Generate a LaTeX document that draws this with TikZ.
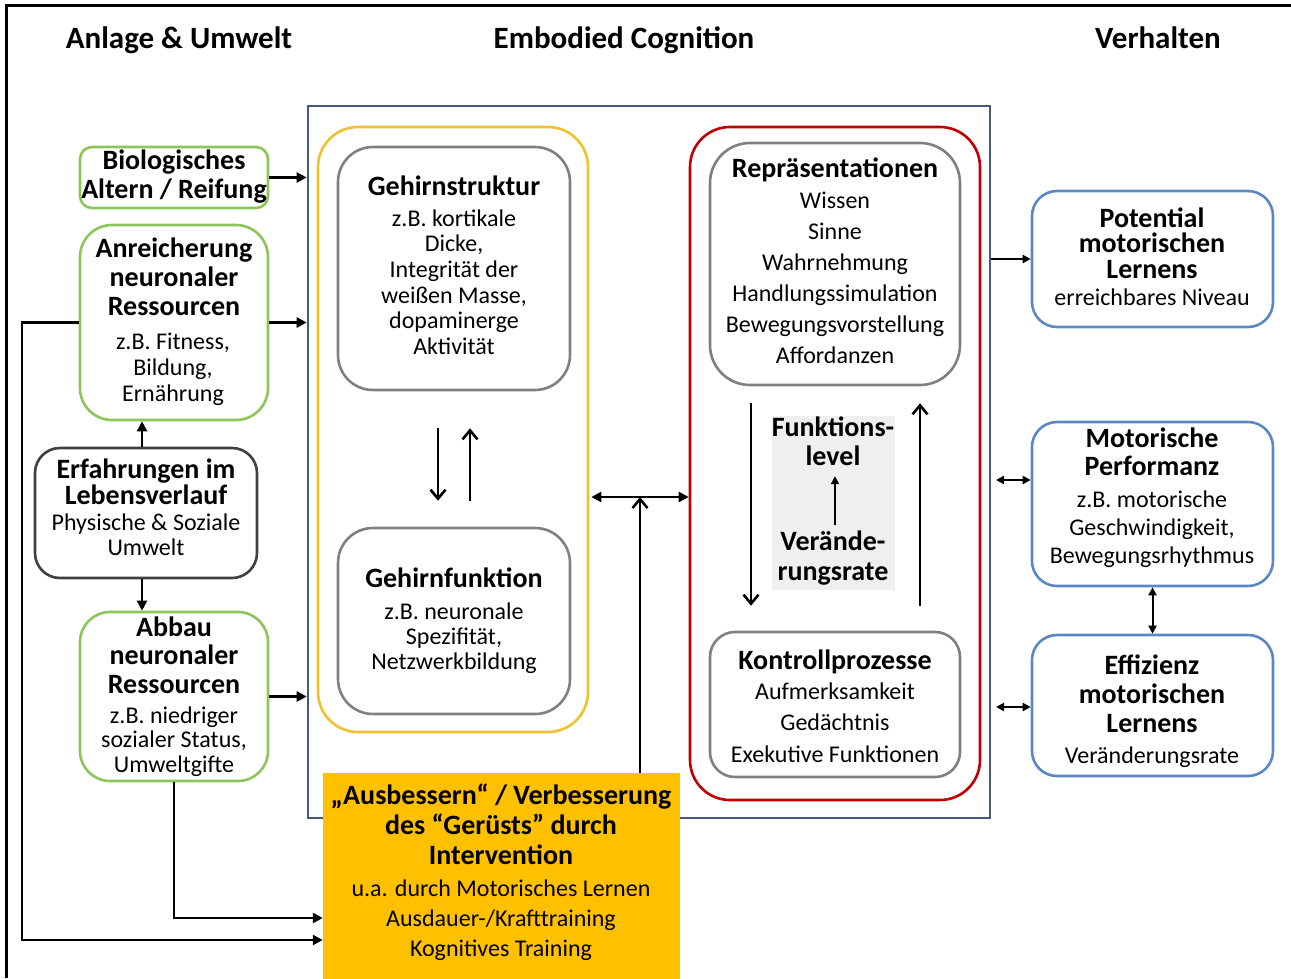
\documentclass[tikz,border=0pt]{standalone}
\usepackage{fontspec}
\setmainfont{Carlito}
\usetikzlibrary{arrows.meta}

\definecolor{leafgreen}{HTML}{8CC65A}
\definecolor{slateblue}{HTML}{46597A}
\definecolor{goldline}{HTML}{F2C12E}
\definecolor{darkred}{HTML}{C00000}
\definecolor{midgrey}{HTML}{808080}
\definecolor{darkgrey}{HTML}{404040}
\definecolor{skyblue}{HTML}{5B88C4}
\definecolor{amber}{HTML}{FFC000}
\definecolor{shade}{HTML}{EFEFEF}

% one centred node per text line: style, name prefix, x, y of first line, line step, lines
\newcommand\tlines[6]{%
  \foreach \lineitem [count=\k from 0] in {#6}
    {\node[#1] (#2\k) at ({#3},{#4+\k*#5}) {\lineitem};}}

\begin{document}
\begin{tikzpicture}[x=1pt,y=-1pt,
  hdr/.style={font=\bfseries\fontsize{31}{36}\selectfont, text height=22pt, text depth=6pt, inner sep=0pt},
  ttl/.style={font=\bfseries\fontsize{28}{32}\selectfont, text height=19pt, text depth=5pt, inner sep=0pt},
  bdy/.style={font=\fontsize{24}{28}\selectfont, text height=17pt, text depth=4.5pt, inner sep=0pt},
  box/.style={draw=#1, line width=2.6pt, fill=white, inner sep=0pt},
  arr/.style={line width=2.6pt, -{Triangle[length=10pt,width=10pt]}},
  darr/.style={line width=2.6pt, {Triangle[length=10pt,width=10pt]}-{Triangle[length=10pt,width=10pt]}},
  sarr/.style={line width=2pt, -{Triangle[length=8pt,width=8pt]}},
  sdarr/.style={line width=2pt, {Triangle[length=8pt,width=8pt]}-{Triangle[length=8pt,width=8pt]}},
  openarr/.style={line width=2.6pt, -{Straight Barb[length=9pt,width=15pt]}},
]
\useasboundingbox (0,0) rectangle (1291,978);

% frame
\draw[line width=3pt] (6,978) -- (6,5) -- (1291,5);

% column headings
\node[hdr] (hAnlage) at (179,40) {Anlage \& Umwelt};
\node[hdr] (hEmb) at (624,40) {Embodied Cognition};
\node[hdr] (hVerh) at (1158,40) {Verhalten};

% embodied cognition frame and its contents
\node[box=slateblue, minimum width=682pt, minimum height=712pt] (emb) at (649,462) {};
\node[box=goldline, rounded corners=40pt, minimum width=270pt, minimum height=605pt] (yel) at (453,429.5) {};
\node[box=darkred, rounded corners=40pt, minimum width=290pt, minimum height=673pt] (red) at (835,463.5) {};
\node[box=midgrey, rounded corners=35pt, minimum width=232pt, minimum height=243pt] (gs) at (454,268.5) {};
\node[box=midgrey, rounded corners=35pt, minimum width=232pt, minimum height=186pt] (gf) at (454,621) {};
\node[box=midgrey, rounded corners=40pt, minimum width=250pt, minimum height=242pt] (rep) at (835,264) {};
\node[box=midgrey, rounded corners=25pt, minimum width=250pt, minimum height=145pt] (kon) at (835,704.5) {};
\node[fill=shade, inner sep=0pt, minimum width=123pt, minimum height=174pt] (fl) at (833.5,503) {};

% intervention box
\node[fill=amber, inner sep=0pt, minimum width=357pt, minimum height=215pt] (orange) at (501.5,880.5) {};

% nature & environment column
\node[box=leafgreen, rounded corners=12pt, minimum width=188pt, minimum height=61pt] (bio) at (174,177.5) {};
\node[box=leafgreen, rounded corners=32pt, minimum width=188pt, minimum height=195pt] (anr) at (174,322.5) {};
\node[box=darkgrey, rounded corners=25pt, minimum width=222pt, minimum height=130pt] (erf) at (146,513) {};
\node[box=leafgreen, rounded corners=30pt, minimum width=188pt, minimum height=169pt] (abb) at (174,696.5) {};

% behaviour column
\node[box=skyblue, rounded corners=25pt, minimum width=241pt, minimum height=136pt] (pot) at (1152.5,259) {};
\node[box=skyblue, rounded corners=25pt, minimum width=241pt, minimum height=164pt] (perf) at (1152.5,504) {};
\node[box=skyblue, rounded corners=25pt, minimum width=241pt, minimum height=141pt] (eff) at (1152.5,705.5) {};

% texts
\tlines{ttl}{biot}{174}{162}{29}{Biologisches,{Altern / Reifung}}
\tlines{ttl}{anrt}{174}{250}{29}{Anreicherung,neuronaler,Ressourcen}
\tlines{bdy}{anrb}{173}{343}{26}{{z.B. Fitness,},{Bildung,},Ernährung}
\tlines{ttl}{erft}{146}{471}{26.5}{{Erfahrungen im},Lebensverlauf}
\tlines{bdy}{erfb}{146}{524}{25.5}{{Physische \& Soziale},Umwelt}
\tlines{ttl}{abbt}{174}{629}{28.5}{Abbau,neuronaler,Ressourcen}
\tlines{bdy}{abbb}{174}{717}{24.5}{{z.B. niedriger},{sozialer Status,},Umweltgifte}

\tlines{ttl}{gst}{454}{188}{0}{Gehirnstruktur}
\tlines{bdy}{gsb}{454}{220}{25.6}{{z.B. kortikale},{Dicke,},{Integrität der},{weißen Masse,},dopaminerge,Aktivität}
\tlines{ttl}{gft}{454}{580}{0}{Gehirnfunktion}
\tlines{bdy}{gfb}{454}{613}{25}{{z.B. neuronale},{Spezifität,},Netzwerkbildung}
\tlines{ttl}{rept}{835}{170}{0}{Repräsentationen}
\tlines{bdy}{repb}{835}{202}{31}{Wissen,Sinne,Wahrnehmung,Handlungssimulation,Bewegungsvorstellung,Affordanzen}
\tlines{ttl}{kont}{835}{662}{0}{Kontrollprozesse}
\tlines{bdy}{konb}{835}{693}{31.5}{Aufmerksamkeit,Gedächtnis,{Exekutive Funktionen}}
\tlines{ttl}{flt}{833}{429}{29}{Funktions-,level}
\tlines{ttl}{vrt}{833}{543}{30}{Verände-,rungsrate}

\tlines{ttl}{orat}{501}{797}{30}{{„Ausbessern“ / Verbesserung},{des “Gerüsts” durch},Intervention}
\tlines{bdy}{orab}{501}{890}{30}{{u.a. durch Motorisches Lernen},{Ausdauer-/Krafttraining},{Kognitives Training}}

\tlines{ttl}{pott}{1152}{220}{25.5}{Potential,motorischen,Lernens}
\tlines{bdy}{potb}{1152}{299}{0}{{erreichbares Niveau}}
\tlines{ttl}{perft}{1152}{440}{28}{Motorische,Performanz}
\tlines{bdy}{perfb}{1152}{501}{28}{{z.B. motorische},{Geschwindigkeit,},Bewegungsrhythmus}
\tlines{ttl}{efft}{1152}{667}{29}{Effizienz,motorischen,Lernens}
\tlines{bdy}{effb}{1152}{757}{0}{Veränderungsrate}

% connectors: left column
\draw[arr] (bio.east) -- (bio.east -| emb.west);
\draw[arr] (anr.east) -- (anr.east -| emb.west);
\draw[arr] (abb.east) -- (abb.east -| emb.west);
\draw[arr] ([xshift=-4pt]erf.north) -- ([xshift=-4pt]erf.north |- anr.south);
\draw[arr] ([xshift=-4pt]erf.south) -- ([xshift=-4pt]erf.south |- abb.north);
\coordinate (railbot) at (22,940);
\draw[arr] (anr.west) -- (anr.west -| railbot) -- (railbot) -- (railbot -| orange.west);
\coordinate (abbturn) at (174,918);
\draw[arr] (abb.south) -- (abbturn) -- (abbturn -| orange.west);

% connectors: inside the embodied cognition frame
\draw[openarr, shorten <=37pt, shorten >=26pt] ([xshift=-16pt]gs.south) -- ([xshift=-16pt]gf.north);
\draw[openarr, shorten <=26pt, shorten >=37pt] ([xshift=16pt]gf.north) -- ([xshift=16pt]gs.south);
\draw[openarr, shorten <=17pt, shorten >=25pt] ([xshift=-84pt]rep.south) -- ([xshift=-84pt]kon.north);
\draw[openarr, shorten <=25pt, shorten >=17pt] ([xshift=85pt]kon.north) -- ([xshift=85pt]rep.south);
\draw[sarr, shorten <=6pt, shorten >=6pt] ([xshift=2pt]vrt0.north) -- ([xshift=2pt]flt1.south);
\coordinate (mid) at (640,497);
\draw[darr, shorten <=2pt] (yel.east |- mid) -- (red.west |- mid);
\draw[openarr] (orange.north -| mid) -- (mid);

% connectors: behaviour column
\draw[sarr] (emb.east |- pot.west) -- (pot.west);
\coordinate (perfin) at (996,480);
\draw[sdarr] (perfin) -- (perfin -| perf.west);
\coordinate (effin) at (996,707);
\draw[sdarr] (effin) -- (effin -| eff.west);
\draw[sdarr] (perf.south) -- (eff.north);
\end{tikzpicture}
\end{document}
